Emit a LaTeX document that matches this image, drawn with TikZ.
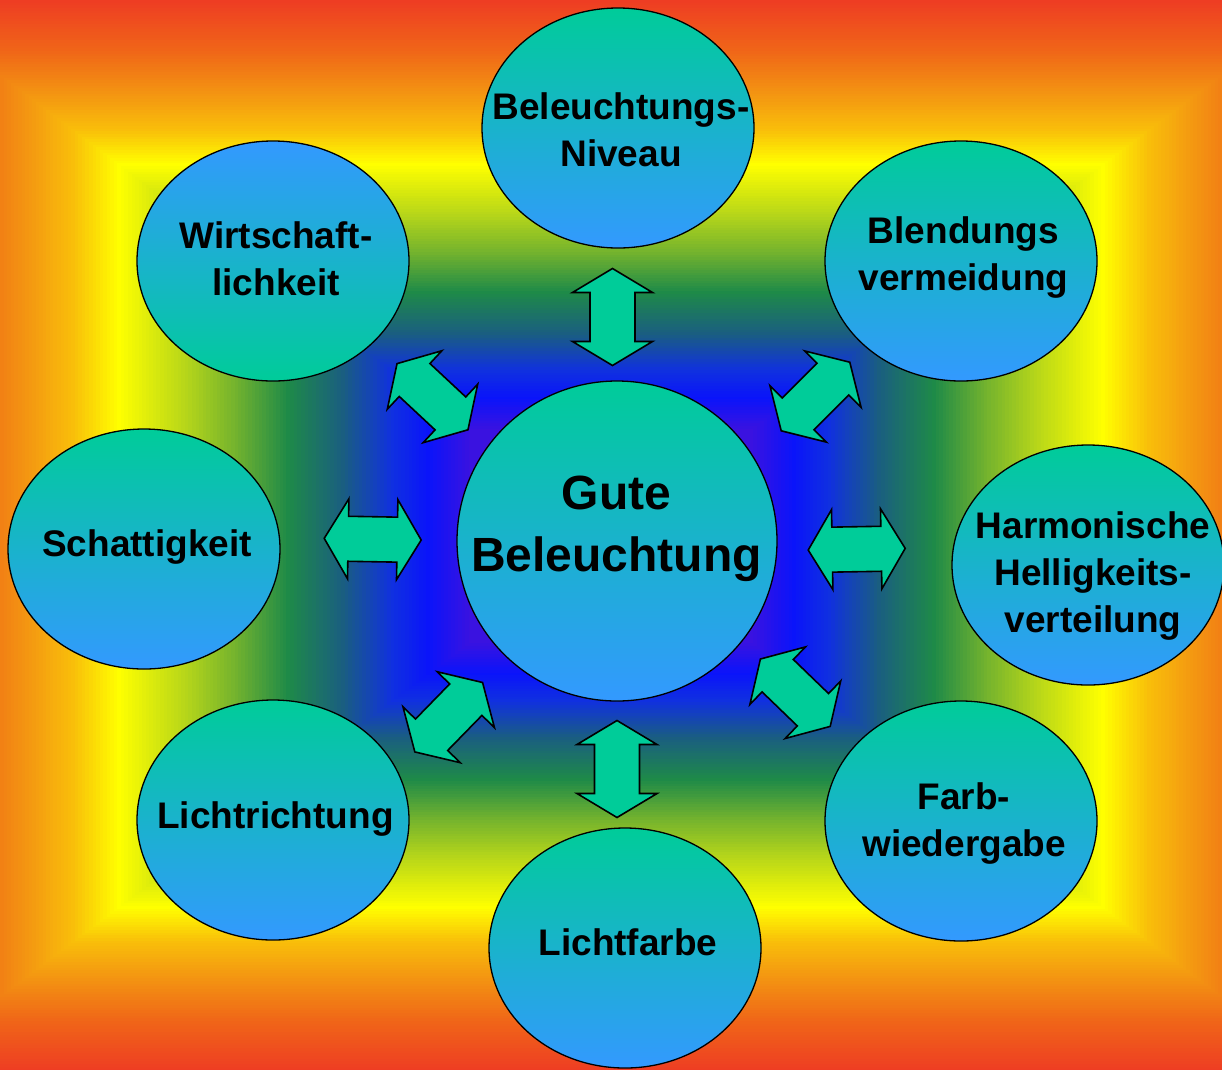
\documentclass[tikz,border=0pt]{standalone}
\usepackage{fontspec}
\setmainfont{Liberation Sans}
\usetikzlibrary{shapes.geometric}
\definecolor{bgA}{HTML}{EE3D23}
\definecolor{bgB}{HTML}{F06418}
\definecolor{bgC}{HTML}{F39312}
\definecolor{bgD}{HTML}{F9BE0A}
\definecolor{bgE}{HTML}{FFFF00}
\definecolor{bgF}{HTML}{B5D51A}
\definecolor{bgG}{HTML}{72B22E}
\definecolor{bgH}{HTML}{1E8A48}
\definecolor{bgI}{HTML}{1A5E80}
\definecolor{bgJ}{HTML}{1030E0}
\definecolor{bgK}{HTML}{0A14FA}
\definecolor{bgL}{HTML}{3A12E0}
\definecolor{bgM}{HTML}{5010D0}
\definecolor{topc}{HTML}{00CC99}
\definecolor{botc}{HTML}{3399FF}
\definecolor{arrowc}{HTML}{00CC99}
\newcommand\bgseg[5]{%
  \foreach \k in {0,...,#5}{%
    \pgfmathsetmacro\bgr{#1+(#2-#1)*\k/#5}%
    \pgfmathsetmacro\bgp{100*\k/#5}%
    \fill[#4!\bgp!#3] ({611-710.22*\bgr},{536-536*\bgr}) rectangle ({611+710.22*\bgr},{536+536*\bgr});
  }%
}
\tikzset{
  bub/.style={ellipse, draw=black, line width=1.3pt, minimum width=272pt,
    minimum height=240pt, inner sep=0pt, top color=topc, bottom color=botc},
  bubinv/.style={bub, top color=botc, bottom color=topc},
  bigbub/.style={bub, minimum width=320pt, minimum height=320pt},
  lbl/.style={align=center, inner sep=0pt, font=\fontsize{37}{47}\selectfont\bfseries},
  biglbl/.style={align=center, inner sep=0pt, font=\fontsize{48}{62}\selectfont\bfseries},
  arrowshape/.style={fill=arrowc, draw=black, line width=1.6pt, line join=miter},
  dblarrow/.pic={
    \draw[arrowshape] (-48.5,0) -- (-24.5,-40) -- (-24.5,-22.5) -- (24.5,-22.5)
      -- (24.5,-40) -- (48.5,0) -- (24.5,40) -- (24.5,22.5) -- (-24.5,22.5)
      -- (-24.5,40) -- cycle;
  }
}
\begin{document}
\begin{tikzpicture}[x=1pt,y=-1pt]
\useasboundingbox (0,0) rectangle (1222,1069);
\begin{scope}
  \clip (0,0) rectangle (1222,1069);
  \bgseg{1.00}{0.91}{bgA}{bgB}{18}
  \bgseg{0.91}{0.83}{bgB}{bgC}{16}
  \bgseg{0.83}{0.76}{bgC}{bgD}{14}
  \bgseg{0.76}{0.695}{bgD}{bgE}{13}
  \bgseg{0.695}{0.60}{bgE}{bgF}{19}
  \bgseg{0.60}{0.53}{bgF}{bgG}{14}
  \bgseg{0.53}{0.457}{bgG}{bgH}{15}
  \bgseg{0.457}{0.38}{bgH}{bgI}{15}
  \bgseg{0.38}{0.31}{bgI}{bgJ}{14}
  \bgseg{0.31}{0.26}{bgJ}{bgK}{10}
  \bgseg{0.26}{0.20}{bgK}{bgL}{12}
  \bgseg{0.20}{0.00}{bgL}{bgM}{10}
\end{scope}

% arrows
\pic[rotate=90] at (612.5,317) {dblarrow};
\pic[rotate=90] at (617,769) {dblarrow};
\pic[rotate=-1] at (372.7,539.2) {dblarrow};
\pic[rotate=1] at (856.7,549.2) {dblarrow};
\pic[rotate=-43] at (432.5,396.7) {dblarrow};
\pic[rotate=45] at (815.5,396.5) {dblarrow};
\pic[rotate=45.7] at (448.7,717.2) {dblarrow};
\pic[rotate=-44] at (795.3,692.7) {dblarrow};

% bubbles
\node[bigbub] (gute) at (617,541) {};
\node[bub] (niv) at (618,128) {};
\node[bub] (blend) at (961,261) {};
\node[bubinv] (wirt) at (273,261) {};
\node[bub] (schatt) at (144,549) {};
\node[bub] (harm) at (1088,565) {};
\node[bub] (richt) at (273,820) {};
\node[bub] (farb) at (961,821) {};
\node[bub] (lfarbe) at (625,948) {};

% labels
\node[biglbl] (gute-t) at (616.5,528.7) {Gute\\Beleuchtung};
\node[lbl] (niv-t) at (621,129.5) {Beleuchtungs-\\Niveau};
\node[lbl] (blend-t) at (963.5,257.6) {Blendungs\\vermeidung};
\node[lbl] (wirt-t) at (276,259) {Wirtschaft-\\lichkeit};
\node[lbl] (schatt-t) at (147,546.6) {Schattigkeit};
\node[lbl] (harm-t) at (1093,576) {Harmonische\\Helligkeits-\\verteilung};
\node[lbl] (richt-t) at (275.5,818.6) {Lichtrichtung};
\node[lbl] (farb-t) at (964,823) {Farb-\\wiedergabe};
\node[lbl] (lfarbe-t) at (628,942) {Lichtfarbe};
\end{tikzpicture}
\end{document}
